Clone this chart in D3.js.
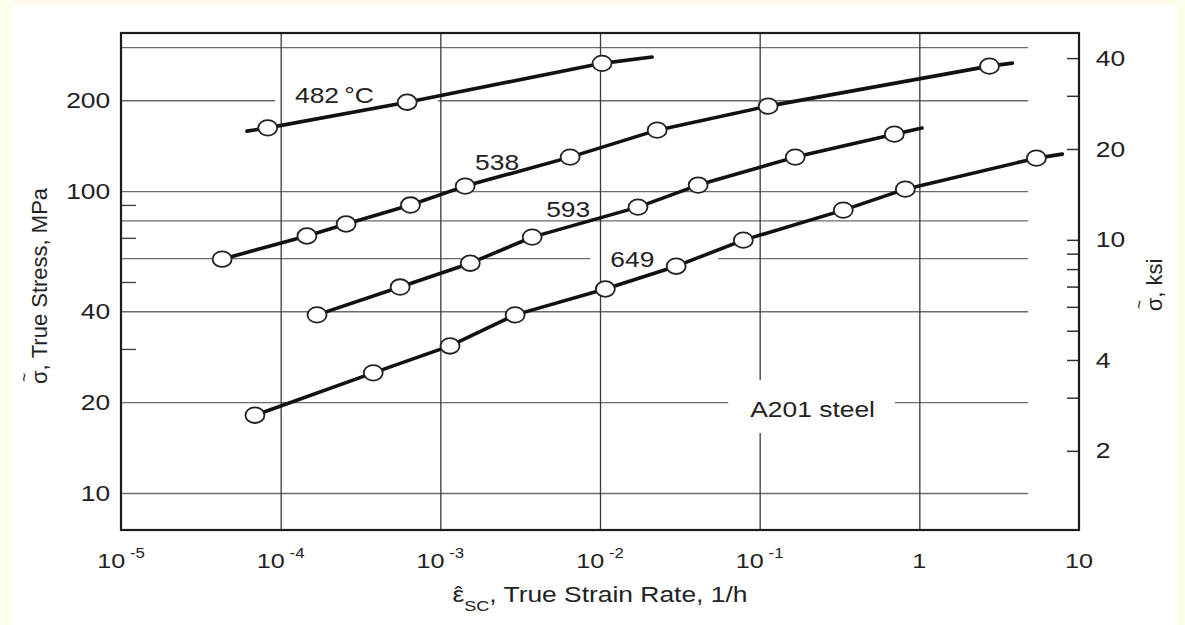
<!DOCTYPE html>
<html>
<head>
<meta charset="utf-8">
<script src="https://cdn.jsdelivr.net/npm/d3@7"></script>
<style>
  body { margin: 0; background: #fdfbea; }
  svg { display: block; }
  text { font-family: "Liberation Sans", Arial, Helvetica, sans-serif; fill: #222; }
</style>
</head>
<body>
<svg id="chart"></svg>
<script>
// axis ranges and ticks
const rateDomain = [1e-5, 10];
const stressDomain = [7.54, 334];
const xTicks = [1e-5, 1e-4, 1e-3, 1e-2, 1e-1, 1, 10];
const xGrid = [1e-4, 1e-3, 1e-2, 1e-1, 1];
const yGrid = [10, 20, 40, 60, 80, 100, 200, 300];
const yLabels = [10, 20, 40, 100, 200];
const yMinor = [30, 50, 70, 90];
const ksiTicks = [2, 3, 4, 5, 6, 7, 8, 9, 10, 20, 30, 40];
const ksiLabels = [2, 4, 10, 20, 40];
const MPA_PER_KSI = 6.895;
const gridEndRate = 4.8;

// test temperatures (°C) and measured points: strain rate (1/h), true stress (MPa)
const temps = ['482\u2009°C', '538', '593', '649'];
const rate482 = [8.3e-5, 6.2e-4, 1.03e-2];
const stress482 = [162, 197, 265];
const rate538 = [4.3e-5, 1.46e-4, 2.57e-4, 6.5e-4, 1.43e-3, 6.5e-3, 2.28e-2, 0.113, 2.75];
const stress538 = [59.5, 71, 77.8, 89.9, 103.9, 129.6, 159.2, 191.2, 259.4];
const rate593 = [1.69e-4, 5.6e-4, 1.54e-3, 3.76e-3, 1.73e-2, 4.12e-2, 0.167, 0.697];
const stress593 = [38.9, 48.1, 57.7, 70.4, 88.5, 104.7, 129.6, 154.4];
const rate649 = [6.9e-5, 3.8e-4, 1.15e-3, 2.94e-3, 1.08e-2, 3.0e-2, 7.9e-2, 0.334, 0.817, 5.41];
const stress649 = [18.1, 25.0, 30.7, 38.9, 47.4, 56.4, 68.8, 86.5, 101.5, 128.6];

// where each drawn curve begins and ends
const fitStart = [[6.15e-5, 158], [4.3e-5, 59.5], [1.69e-4, 38.9], [6.9e-5, 18.1]];
const fitEnd = [[2.12e-2, 278], [3.83, 265.4], [1.04, 161.7], [7.87, 132.6]];

// curve labels (left end of baseline)
const labelRate = [1.23e-4, 1.65e-3, 4.6e-3, 1.16e-2];
const labelStress = [195.6, 117.4, 82, 56];
const noteText = 'A201 steel';
const noteRate = 0.0873, noteStress = 17.85;

const rates = [rate482, rate538, rate593, rate649];
const stresses = [stress482, stress538, stress593, stress649];

const width = 1185, height = 625;
const margin = {top: 33, right: 106, bottom: 95, left: 121};
const innerW = width - margin.left - margin.right;
const innerH = height - margin.top - margin.bottom;
const SX = 1.2; // scanned figure is a bit wider than tall

const svg = d3.select('#chart').attr('width', width).attr('height', height);
svg.append('rect')
    .attr('x', 12).attr('y', 5)
    .attr('width', 1165).attr('height', 620)
    .attr('fill', '#fff');

const chart = svg.append('g')
    .attr('transform', `translate(${margin.left},${margin.top})`);

const x = d3.scaleLog().domain(rateDomain).range([0, innerW]);
const y = d3.scaleLog().domain(stressDomain).range([innerH, 0]);
const yk = d3.scaleLog().domain(stressDomain.map(v => v / MPA_PER_KSI)).range([innerH, 0]);

const gridH = chart.append('g');
const maskH = chart.append('g');
const gridV = chart.append('g');
const maskAll = chart.append('g');
const axesG = chart.append('g');
const linesG = chart.append('g');
const marksG = chart.append('g');
const textG = chart.append('g');

// grid
gridH.call(d3.axisLeft(y).tickValues(yGrid).tickSize(-x(gridEndRate)).tickFormat(''))
    .call(g => g.select('.domain').remove())
    .call(g => g.selectAll('line').attr('stroke', '#6b6b6b').attr('stroke-width', 1.4));

gridV.attr('transform', `translate(0,${innerH})`)
    .call(d3.axisBottom(x).tickValues(xGrid).tickSize(-innerH).tickFormat(''))
    .call(g => g.select('.domain').remove())
    .call(g => g.selectAll('line').attr('stroke', '#3a3a3a').attr('stroke-width', 1.3));

// left axis
axesG.append('g')
    .call(d3.axisLeft(y).tickValues(yLabels).tickSize(0).tickPadding(9).tickFormat(d3.format('d')))
    .call(g => g.select('.domain').remove())
    .call(g => g.selectAll('text').attr('transform', `scale(${SX},1)`)
        .style('font-size', '22px'));

axesG.append('g')
    .call(d3.axisLeft(y).tickValues(yMinor).tickSize(-15).tickFormat(''))
    .call(g => g.select('.domain').remove())
    .call(g => g.selectAll('line').attr('stroke', '#444').attr('stroke-width', 1.4));

// right axis, ksi
axesG.append('g')
    .attr('transform', `translate(${innerW},0)`)
    .call(d3.axisRight(yk).tickValues(ksiTicks).tickSize(-12).tickPadding(14)
        .tickFormat(d => ksiLabels.includes(d) ? d : ''))
    .call(g => g.select('.domain').remove())
    .call(g => g.selectAll('line').attr('stroke', '#333').attr('stroke-width', 1.5))
    .call(g => g.selectAll('text').attr('transform', `scale(${SX},1)`)
        .style('font-size', '22px'));

// bottom tick labels: 10^-5 ... 1, 10
axesG.append('g').selectAll('text')
    .data(xTicks)
    .join('text')
    .attr('transform', d => `translate(${x(d)},${innerH + 38}) scale(${SX},1)`)
    .attr('text-anchor', 'middle')
    .style('font-size', '21px')
    .each(function(d) {
        const e = Math.round(Math.log10(d));
        const t = d3.select(this);
        if (e < 0) {
            t.append('tspan').text('10');
            t.append('tspan').attr('dx', 4).attr('dy', -10)
                .style('font-size', '14px').text('-' + (-e));
        } else {
            t.text(d3.format('d')(d));
        }
    });

// frame
axesG.append('rect')
    .attr('width', innerW).attr('height', innerH)
    .attr('fill', 'none').attr('stroke', '#1c1c1c').attr('stroke-width', 2.2);

// curves: straight segments through the points, hidden joints under the markers
const line = d3.line()
    .x(d => x(d[0]))
    .y(d => y(d[1]));

rates.forEach((r, i) => {
    const pts = r.map((v, j) => [v, stresses[i][j]]);
    const path = [];
    if (fitStart[i][0] < pts[0][0]) path.push(fitStart[i]);
    path.push(...pts);
    if (fitEnd[i][0] > pts[pts.length - 1][0]) path.push(fitEnd[i]);

    linesG.append('path')
        .datum(path)
        .attr('d', line)
        .attr('fill', 'none')
        .attr('stroke', '#111')
        .attr('stroke-width', 3.6)
        .attr('stroke-linejoin', 'round')
        .attr('stroke-linecap', 'round');

    marksG.selectAll(null)
        .data(pts)
        .join('ellipse')
        .attr('cx', d => x(d[0]))
        .attr('cy', d => y(d[1]))
        .attr('rx', 9.5)
        .attr('ry', 7.8)
        .attr('fill', '#fff')
        .attr('stroke', '#222')
        .attr('stroke-width', 1.8);
});

// curve labels; the first and last break the grid line under them
const maskedLabels = new Set([temps[0], temps[3]]);
temps.forEach((t, i) => {
    const lx = x(labelRate[i]), ly = y(labelStress[i]);
    const txt = textG.append('text')
        .attr('transform', `translate(${lx},${ly}) scale(${SX},1)`)
        .style('font-size', '22px')
        .text(t);
    if (maskedLabels.has(t)) {
        const bb = txt.node().getBBox();
        maskH.append('rect')
            .attr('x', lx + bb.x * SX - 20)
            .attr('y', ly + bb.y)
            .attr('width', bb.width * SX + 84)
            .attr('height', bb.height)
            .attr('fill', '#fff');
    }
});

// material note, breaks both grid directions
{
    const nx = x(noteRate), ny = y(noteStress);
    const txt = textG.append('text')
        .attr('transform', `translate(${nx},${ny}) scale(${SX},1)`)
        .style('font-size', '22px')
        .text(noteText);
    const bb = txt.node().getBBox();
    maskAll.append('rect')
        .attr('x', nx + bb.x * SX - 22)
        .attr('y', ny - 37)
        .attr('width', bb.width * SX + 42)
        .attr('height', 53)
        .attr('fill', '#fff');
}

// put a small accent centred over the first character of a text
function accent(g, txt, mark, dy, size) {
    const ext = txt.node().getExtentOfChar(0);
    g.append('text')
        .attr('x', ext.x + ext.width / 2)
        .attr('y', dy)
        .attr('text-anchor', 'middle')
        .style('font-size', size + 'px')
        .text(mark);
}

// axis titles
const xtG = svg.append('g')
    .attr('transform', `translate(${margin.left + innerW / 2},602) scale(${SX},1)`);
const xt = xtG.append('text')
    .attr('text-anchor', 'middle')
    .style('font-size', '22px');
xt.append('tspan').text('\u03B5');
xt.append('tspan').attr('dy', 9).style('font-size', '15px').text('SC');
xt.append('tspan').attr('dy', -9).text(', True Strain Rate, 1/h');
accent(xtG, xt, '\u02C6', -1, 20);

const ytG = svg.append('g').attr('transform', 'translate(47,286) rotate(-90)');
const yt = ytG.append('text')
    .attr('text-anchor', 'middle')
    .style('font-size', '22px')
    .text('\u03C3, True Stress, MPa');
accent(ytG, yt, '~', -17, 16);

const ktG = svg.append('g').attr('transform', 'translate(1162,285) rotate(-90)');
const kt = ktG.append('text')
    .attr('text-anchor', 'middle')
    .style('font-size', '22px')
    .text('\u03C3, ksi');
accent(ktG, kt, '~', -17, 16);
</script>
</body>
</html>
